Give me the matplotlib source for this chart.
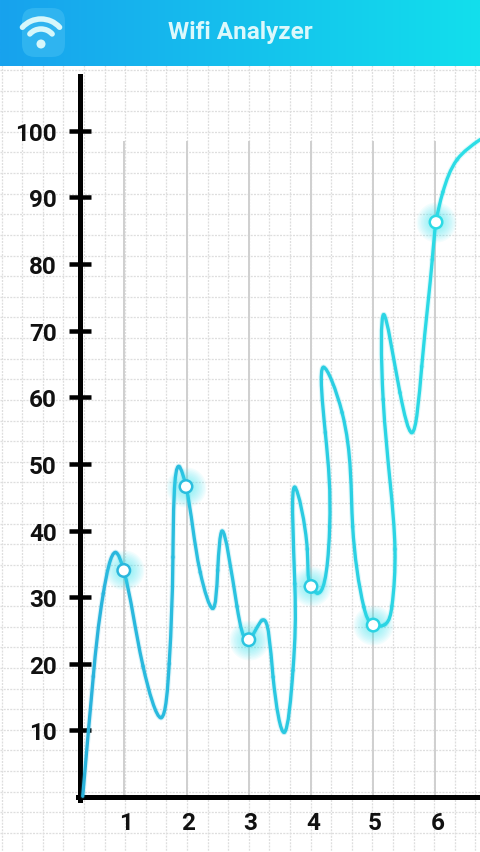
"""
Wifi Analyzer chart: smooth signal curve over graph paper
"""
import matplotlib
matplotlib.use('Agg')
import matplotlib.pyplot as plt
import numpy as np
from matplotlib.collections import PathCollection
from matplotlib.colors import to_rgb
from matplotlib.patches import Arc, Circle, FancyBboxPatch
from matplotlib.path import Path

plt.rcParams['font.family'] = ['Roboto', 'DejaVu Sans']

# Curve values
curve_x = [0.33, 0.50, 0.66, 0.86, 0.99, 1.30, 1.59, 1.72, 1.78, 1.88, 1.99, 2.22, 2.42, 2.50,
           2.57, 2.81, 3.00, 3.21, 3.39, 3.57, 3.71, 3.74, 3.74, 3.94, 4.00, 4.10, 4.30, 4.23,
           4.20, 4.50, 4.67, 4.85, 5.00, 5.19, 5.30, 5.35, 5.16, 5.17, 5.43, 5.62, 5.78, 5.95,
           6.01, 6.12, 6.35, 6.72]
curve_y = [0.1, 18.1, 30.5, 36.7, 34.0, 19.6, 11.9, 20.0, 36.0, 49.6, 46.6, 33.7, 28.3, 34.0,
           39.9, 28.6, 23.6, 26.5, 18.0, 9.7, 19.0, 32.0, 46.5, 37.2, 31.6, 30.6, 40.6, 54.7,
           64.5, 57.7, 40.6, 28.5, 25.8, 25.9, 28.6, 37.2, 59.7, 72.4, 60.7, 54.7, 64.6, 80.7,
           86.3, 90.8, 95.7, 98.7]

# Highlighted points
point_x = [0.99, 1.99, 3.00, 4.00, 5.00, 6.01]
point_y = [34.0, 46.6, 23.6, 31.6, 25.8, 86.3]

x_labels = [1, 2, 3, 4, 5, 6]
y_labels = [10, 20, 30, 40, 50, 60, 70, 80, 90, 100]

line_left = '#2ab2dc'
line_right = '#2cdfe6'
px = 1 / 100 * 72  # one picture pixel in points


def smooth_paths(xs, ys, x_scale, y_scale):
    """Natural parametric cubic spline through the points, one bezier Path per segment"""
    pts = np.column_stack([xs, ys]).astype(float)
    scale = np.array([x_scale, y_scale])
    h = np.linalg.norm(np.diff(pts * scale, axis=0), axis=1) ** 0.7
    n = len(pts)
    # second derivatives from the usual tridiagonal system
    A = np.zeros((n, n))
    b = np.zeros((n, 2))
    A[0, 0] = A[-1, -1] = 1
    for i in range(1, n - 1):
        A[i, i - 1] = h[i - 1]
        A[i, i] = 2 * (h[i - 1] + h[i])
        A[i, i + 1] = h[i]
        b[i] = 6 * ((pts[i + 1] - pts[i]) / h[i] - (pts[i] - pts[i - 1]) / h[i - 1])
    M = np.linalg.solve(A, b)
    paths = []
    for i in range(n - 1):
        slope = (pts[i + 1] - pts[i]) / h[i]
        m0 = slope - h[i] * (2 * M[i] + M[i + 1]) / 6
        m1 = slope + h[i] * (M[i] + 2 * M[i + 1]) / 6
        c1 = pts[i] + m0 * h[i] / 3
        c2 = pts[i + 1] - m1 * h[i] / 3
        paths.append(Path([pts[i], c1, c2, pts[i + 1]],
                          [Path.MOVETO, Path.CURVE4, Path.CURVE4, Path.CURVE4]))
    return paths


fig = plt.figure(figsize=(4.8, 8.53), dpi=100)

# Background axes in picture pixels: paper grid, header bar and icon
bg = fig.add_axes([0, 0, 1, 1], zorder=0)
bg.axis('off')

dotted = (0, (1.6, 1.0))
bg.vlines(np.arange(1.6, 480, 20.6), 66, 853, color='#dedede', lw=0.9, linestyles=[dotted])
bg.hlines(np.arange(71, 853, 20.62), 0, 480, color='#dedede', lw=0.9, linestyles=[dotted])

grad = np.linspace(0, 1, 256).reshape(1, -1, 1)
start, end = np.array(to_rgb('#18a2ee')), np.array(to_rgb('#12dfec'))
bg.imshow(start + (end - start) * grad, extent=[0, 480, 66.5, 0], aspect='auto', zorder=3)
bg.set_xlim(0, 480)
bg.set_ylim(853, 0)

icon = FancyBboxPatch((31, 18), 25, 31, boxstyle='round,pad=9,rounding_size=13',
                      fc='#2fb4f0', ec='none', zorder=4)
bg.add_patch(icon)
wifi = '#d6f7fb'
for r, lw in [(25, 5.5), (15, 5.5)]:
    bg.add_patch(Arc((41, 45), 2 * r, 2 * r, theta1=222, theta2=318, color=wifi,
                     lw=lw * px, capstyle='round', zorder=5))
bg.add_patch(Circle((41, 45), 4.5, fc=wifi, ec='none', zorder=5))
bg.text(240, 32, 'Wifi Analyzer', color='#dcf8fb', fontsize=17.5, fontweight='bold',
        ha='center', va='center', zorder=5)

# Chart axes over the whole figure, scaled so that the picture lines up
ax = fig.add_axes([0, 0, 1, 1], zorder=1)
ax.patch.set_alpha(0)
ax.set_xlim(-1.0, 6.717)
ax.set_ylim(-8.27, 119.80)

for side in ['top', 'right']:
    ax.spines[side].set_visible(False)
ax.spines['left'].set_position(('data', 0.285))
ax.spines['left'].set_bounds(-0.4, 108.2)
ax.spines['left'].set_linewidth(5 * px)
ax.spines['bottom'].set_position(('data', 0))
ax.spines['bottom'].set_bounds(0.25, 6.717)
ax.spines['bottom'].set_linewidth(5 * px)

ax.set_yticks(y_labels)
ax.set_yticklabels([str(v) for v in y_labels], fontsize=17.5, fontweight='bold', color='#111111')
ax.tick_params(axis='y', direction='inout', length=23 * px, width=4.5 * px, pad=8.5, color='black')
ax.set_xticks([])
for v in x_labels:
    ax.text(v + 0.03, -3.85, str(v), fontsize=17.5, fontweight='bold', color='#111111',
            ha='center', va='center')

ax.vlines(x_labels, 0, 98.5, color='#d0d0d0', lw=2 * px, zorder=1)

# Curve, coloured segment by segment from left to right
paths = smooth_paths(curve_x, curve_y, 62.2, 6.66)
left, right = np.array(to_rgb(line_left)), np.array(to_rgb(line_right))
mids = (np.array(curve_x[:-1]) + np.array(curve_x[1:])) / 2
frac = (mids - curve_x[0]) / (curve_x[-1] - curve_x[0])
colors = left + (right - left) * frac[:, None]

glow = PathCollection(paths, facecolors='none', edgecolors=np.column_stack([colors, 0.15 * np.ones(len(colors))]),
                      linewidths=5.5 * px, capstyle='round', zorder=3)
ax.add_collection(glow, autolim=False)
line = PathCollection(paths, facecolors='none', edgecolors=colors, linewidths=3.3 * px,
                      capstyle='round', zorder=4)
ax.add_collection(line, autolim=False)

# Glowing white points
point_frac = (np.array(point_x) - curve_x[0]) / (curve_x[-1] - curve_x[0])
point_colors = left + (right - left) * point_frac[:, None]
for radius in np.arange(20, 7, -1.5):
    ax.scatter(point_x, point_y, s=(2 * radius * px) ** 2, color='#2fe6f5', alpha=0.06,
               linewidths=0, zorder=5)
ax.scatter(point_x, point_y, s=(12.5 * px) ** 2, facecolor='white', edgecolor=point_colors,
           linewidths=2.5 * px, zorder=6)

fig.savefig('out.png', dpi=100)
